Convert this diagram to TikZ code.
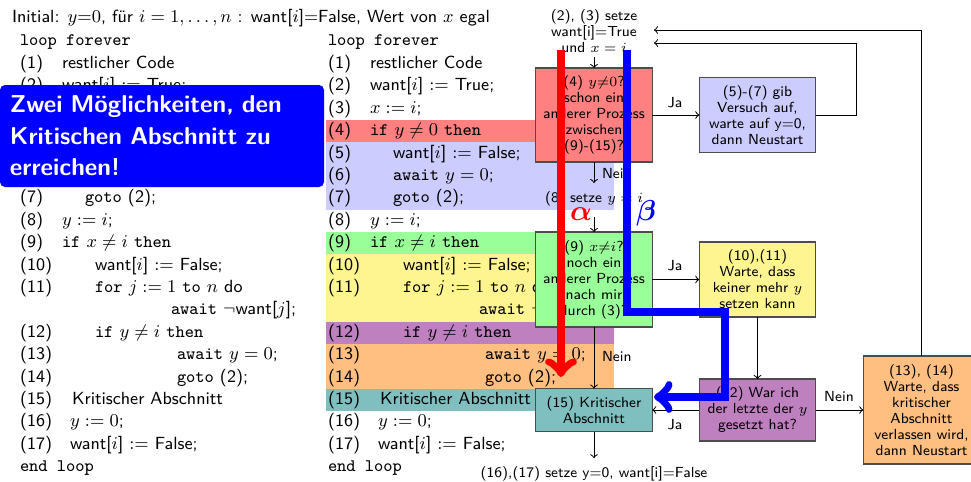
\documentclass[tikz,border=0pt]{standalone}
\usepackage{bm}

\newcommand\codefont{\fontsize{8.8}{10}\selectfont\sffamily}
\newcommand\flowfont{\fontsize{7.3}{8}\selectfont\sffamily}

\begin{document}
\begin{tikzpicture}[
  x=0.5pt, y=0.5pt,
  every node/.style={inner sep=0pt, outer sep=0pt},
  code/.style={anchor=base west, font=\codefont},
  flow/.style={font=\flowfont, align=center},
  stepbox/.style={flow, draw=black!70, line width=0.6pt, minimum width=58.25pt},
  conn/.style={->, line width=0.5pt},
  way/.style={->, line width=4.25pt},
]

% ── colors ──
\definecolor{StepTest}{HTML}{FF8080}
\definecolor{StepGiveUp}{HTML}{CCCCFF}
\definecolor{StepCheck}{HTML}{99FF99}
\definecolor{StepWait}{HTML}{FFF590}
\definecolor{StepLast}{HTML}{BF80BF}
\definecolor{StepRestart}{HTML}{FFBF80}
\definecolor{StepCrit}{HTML}{80BFBF}

\useasboundingbox (0,0) rectangle (971,-482);

% ── line bands ──
\fill[StepTest]    (326,-120.0) rectangle (614,-142.4);
\fill[StepGiveUp]  (326,-142.4) rectangle (614,-209.6);
\fill[StepCheck]   (326,-232.0) rectangle (614,-254.4);
\fill[StepWait]    (326,-254.4) rectangle (614,-321.6);
\fill[StepLast]    (326,-321.6) rectangle (614,-344.0);
\fill[StepRestart] (326,-344.0) rectangle (614,-388.8);
\fill[StepCrit]    (326,-388.8) rectangle (614,-411.2);

% ── header ──
\node[code] (title) at (12,-22.5) {Initial: $y{=}0$, für $i = 1, \ldots, n$ : want[$i$]=False, Wert von $x$ egal};

% ── program, twice ──
\foreach \cx/\cn in {0/l, 308/m} {
  \node[code] (\cn0) at (\cx+20,-46.0) {\ttfamily loop forever};
  \node[code] (\cn1n) at (\cx+20,-68.4) {(1)};
  \node[code] (\cn1t) at (\cx+62,-68.4) {restlicher Code};
  \node[code] (\cn2n) at (\cx+20,-90.8) {(2)};
  \node[code] (\cn2t) at (\cx+62,-90.8) {want[$i$] $:=$ True;};
  \node[code] (\cn3n) at (\cx+20,-113.2) {(3)};
  \node[code] (\cn3t) at (\cx+62,-113.2) {$x := i$;};
  \node[code] (\cn4n) at (\cx+20,-135.6) {(4)};
  \node[code] (\cn4t) at (\cx+62,-135.6) {\texttt{if} $y \neq 0$ \texttt{then}};
  \node[code] (\cn5n) at (\cx+20,-158.0) {(5)};
  \node[code] (\cn5t) at (\cx+85,-158.0) {want[$i$] $:=$ False;};
  \node[code] (\cn6n) at (\cx+20,-180.4) {(6)};
  \node[code] (\cn6t) at (\cx+85,-180.4) {\texttt{await} $y = 0$;};
  \node[code] (\cn7n) at (\cx+20,-202.8) {(7)};
  \node[code] (\cn7t) at (\cx+85,-202.8) {\texttt{goto} (2);};
  \node[code] (\cn8n) at (\cx+20,-225.2) {(8)};
  \node[code] (\cn8t) at (\cx+62,-225.2) {$y := i$;};
  \node[code] (\cn9n) at (\cx+20,-247.6) {(9)};
  \node[code] (\cn9t) at (\cx+62,-247.6) {\texttt{if} $x \neq i$ \texttt{then}};
  \node[code] (\cn10n) at (\cx+20,-270.0) {(10)};
  \node[code] (\cn10t) at (\cx+95,-270.0) {want[$i$] $:=$ False;};
  \node[code] (\cn11n) at (\cx+20,-292.4) {(11)};
  \node[code] (\cn11t) at (\cx+95,-292.4) {\texttt{for} $j := 1$ \texttt{to} $n$ do};
  \node[code] (\cn11w) at (\cx+171,-314.8) {\texttt{await} $\neg$want[$j$];};
  \node[code] (\cn12n) at (\cx+20,-337.2) {(12)};
  \node[code] (\cn12t) at (\cx+95,-337.2) {\texttt{if} $y \neq i$ \texttt{then}};
  \node[code] (\cn13n) at (\cx+20,-359.6) {(13)};
  \node[code] (\cn13t) at (\cx+177,-359.6) {\texttt{await} $y = 0$;};
  \node[code] (\cn14n) at (\cx+20,-382.0) {(14)};
  \node[code] (\cn14t) at (\cx+177,-382.0) {\texttt{goto} (2);};
  \node[code] (\cn15n) at (\cx+20,-404.4) {(15)};
  \node[code] (\cn15t) at (\cx+72,-404.4) {Kritischer Abschnitt};
  \node[code] (\cn16n) at (\cx+20,-426.8) {(16)};
  \node[code] (\cn16t) at (\cx+70,-426.8) {$y := 0$;};
  \node[code] (\cn17n) at (\cx+20,-449.2) {(17)};
  \node[code] (\cn17t) at (\cx+70,-449.2) {want[$i$] $:=$ False;};
  \node[code] (\cn18) at (\cx+20,-471.6) {\ttfamily end loop};
}

% ── note ──
\node[anchor=north west, fill=blue, rounded corners=2.5pt, minimum width=159pt, minimum height=51pt,
  inner xsep=5pt, text width=152pt, align=left, text=white,
  font=\fontsize{12.2}{15.75}\selectfont\bfseries\sffamily] (hint) at (0,-85)
  {Zwei Möglichkeiten, den\\Kritischen Abschnitt zu\\erreichen!};

% ── flow ──
\node[flow] (init) at (594,-31.5) {(2), (3) setze\\want[i]=True\\und $x = i$};
\node[stepbox, fill=StepTest, minimum height=47pt] (p4) at (594,-115) {(4) $y{\neq}0$?\\schon ein\\anderer Prozess\\zwischen\\(9)-(15)?};
\node[stepbox, fill=StepGiveUp, minimum height=37.5pt] (p57) at (757.5,-115) {(5)-(7) gib\\Versuch auf,\\warte auf y=0,\\dann Neustart};
\node[flow] (setzey) at (594,-199.3) {(8) setze $y = i$};
\node[stepbox, fill=StepCheck, minimum height=47.5pt] (p9) at (594,-279.5) {(9) $x{\neq}i$?\\noch ein\\anderer Prozess\\nach mir\\durch (3)?};
\node[stepbox, fill=StepWait, minimum height=37.5pt] (p1011) at (757.5,-279.5) {(10),(11)\\Warte, dass\\keiner mehr $y$\\setzen kann};
\node[stepbox, fill=StepLast, minimum height=31pt] (p12) at (757.5,-410) {(12) War ich\\der letzte der $y$\\gesetzt hat?};
\node[stepbox, fill=StepRestart, minimum height=54pt] (p1314) at (921.5,-410) {(13), (14)\\Warte, dass\\kritischer\\Abschnitt\\verlassen wird,\\dann Neustart};
\node[stepbox, fill=StepCrit, minimum height=21.5pt] (p15) at (594,-410) {(15) Kritischer\\Abschnitt};
\node[flow] (exit) at (594,-473.5) {(16),(17) setze y=0, want[i]=False};

\node[flow] (ja1) at (675,-103) {Ja};
\node[flow, anchor=west] (nein1) at (602,-174) {Nein};
\node[flow] (ja2) at (675,-266) {Ja};
\node[flow, anchor=west] (nein2) at (602,-357) {Nein};
\node[flow] (nein3) at (839,-397) {Nein};
\node[flow] (ja3) at (675,-425) {Ja};

\coordinate (back1) at (654,-43);
\coordinate (back2) at (654,-30);

\draw[conn, shorten <=2pt] (init) -- (p4);
\draw[conn] (p4) -- (p57);
\draw[conn, shorten >=4.5pt] (p4) -- (setzey);
\draw[conn, shorten <=5pt] (setzey) -- (p9);
\draw[conn] (p9) -- (p1011);
\draw[conn] (p9) -- (p15);
\draw[conn] (p1011) -- (p12);
\draw[conn] (p12) -- (p1314);
\draw[conn] (p12) -- (p15);
\draw[conn, shorten >=4pt] (p15) -- (exit);
\draw[conn] (p57.east) -| (856,-43) -- (back1);
\draw[conn] (p1314.north) |- (back2);

% ── the two ways ──
\coordinate (alphaTop) at (561,-50);
\coordinate (alphaEnd) at (561,-377);
\coordinate (betaTop) at (627,-50);
\coordinate (betaEnd) at (654,-397);
\draw[way, red] (alphaTop) -- (alphaEnd);
\draw[way, blue] (betaTop) |- (725,-312) |- (betaEnd);
\node[text=red, font=\fontsize{14}{14}\selectfont] (alpha) at (581,-214) {$\bm{\alpha}$};
\node[text=blue, font=\fontsize{14}{14}\selectfont] (beta) at (646,-213) {$\bm{\beta}$};

\end{tikzpicture}
\end{document}
